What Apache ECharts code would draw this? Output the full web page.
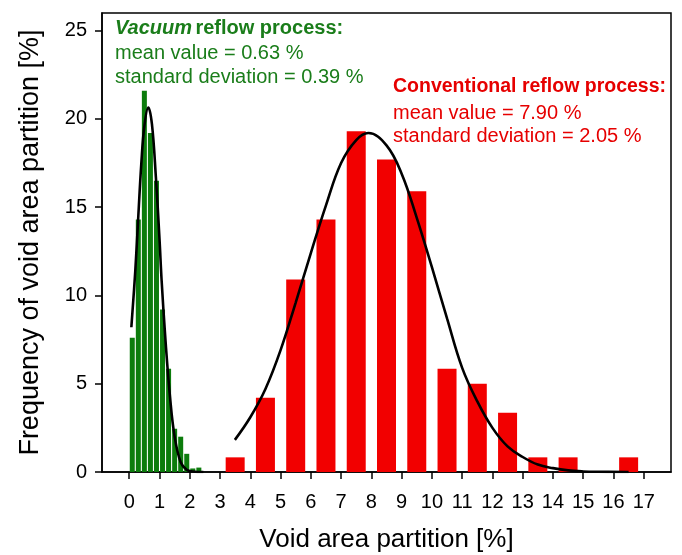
<!DOCTYPE html>
<html>
<head>
<meta charset="utf-8">
<script src="https://cdn.jsdelivr.net/npm/echarts@6/dist/echarts.min.js"></script>
<style>
html,body{margin:0;padding:0;background:#fff;}
#chart{width:682px;height:555px;}
</style>
</head>
<body>
<div id="chart"></div>
<script>
// Vacuum reflow: bin centres (0.2 wide bins) and frequencies [%]
var vacuumBins = [0.1, 0.3, 0.5, 0.7, 0.9, 1.1, 1.3, 1.5, 1.7, 1.9, 2.1, 2.3];
var vacuumFreq = [7.6, 14.3, 21.6, 19.2, 16.5, 9.2, 5.85, 2.45, 2.0, 1.03, 0.2, 0.25];
// Conventional reflow: bin centres (1.0 wide bins) and frequencies [%]
var convBins = [3.5, 4.5, 5.5, 6.5, 7.5, 8.5, 9.5, 10.5, 11.5, 12.5, 13.5, 14.5, 15.5, 16.5];
var convFreq = [0.83, 4.2, 10.9, 14.3, 19.3, 17.7, 15.9, 5.85, 5.0, 3.35, 0.83, 0.83, 0, 0.83];
// Fitted curves
var vacuumCurveX = [0.07, 0.2, 0.3, 0.4, 0.5, 0.63, 0.75, 0.88, 1.0, 1.07, 1.2, 1.35, 1.5, 1.7, 1.9, 2.1, 2.45];
var vacuumCurveY = [8.2, 11.4, 14.5, 17.5, 19.6, 20.65, 19.7, 16.7, 13.2, 10.85, 7.4, 4.2, 2.0, 0.55, 0.12, 0.03, 0];
var convCurveX = [3.49, 4.0, 4.5, 5.0, 5.5, 6.0, 6.5, 7.0, 7.5, 7.9, 8.5, 9.0, 9.5, 10.0, 10.5, 11.0, 11.5, 12.0, 12.5, 13.0, 13.5, 14.0, 14.5, 15.0, 15.5, 16.5];
var convCurveY = [1.82, 3.1, 4.7, 6.9, 9.6, 12.4, 15.1, 17.5, 18.8, 19.2, 18.5, 16.9, 14.4, 11.6, 8.7, 5.9, 4.0, 2.5, 1.45, 0.85, 0.42, 0.22, 0.09, 0.03, 0.01, 0];
// Tick labels
var xTicks = [0, 1, 2, 3, 4, 5, 6, 7, 8, 9, 10, 11, 12, 13, 14, 15, 16, 17];
var yTicks = [0, 5, 10, 15, 20, 25];

function pairs(xs, ys) { return xs.map(function (x, i) { return [x, ys[i]]; }); }

var FONT = "'Liberation Sans', Arial, sans-serif";
var GREEN = '#0c7c0c';
var GREEN_TXT = '#1a7d1a';
var RED = '#f20000';
var RED_TXT = '#e60000';

var chart = echarts.init(document.getElementById('chart'), null, {renderer: 'canvas'});

var xBase = {
  type: 'value', min: -0.9, max: 17.9,
  axisLine: {show: true, onZero: false, lineStyle: {color: '#000', width: 1.5}},
  axisTick: {show: true, customValues: xTicks, length: 7, lineStyle: {color: '#000', width: 1.5}},
  axisLabel: {customValues: xTicks, fontSize: 20, color: '#000', margin: 20, fontFamily: FONT},
  splitLine: {show: false}
};

chart.setOption({
  animation: false,
  backgroundColor: '#fff',
  grid: {left: 102, right: 11, top: 13, bottom: 83, show: true, borderColor: '#000', borderWidth: 1.5, outerBoundsMode: 'none'},
  xAxis: [
    Object.assign({}, xBase, {
      name: 'Void area partition [%]', nameLocation: 'middle', nameGap: 55,
      nameTextStyle: {fontSize: 26, color: '#000', fontFamily: FONT}
    }),
    Object.assign({}, xBase, {show: false, position: 'bottom'})
  ],
  yAxis: {
    type: 'value', min: 0, max: 26,
    axisLine: {show: true, onZero: false, lineStyle: {color: '#000', width: 1.5}},
    axisTick: {show: true, customValues: yTicks, length: 7, lineStyle: {color: '#000', width: 1.5}},
    axisLabel: {customValues: yTicks, fontSize: 20, color: '#000', margin: 15, fontFamily: FONT},
    splitLine: {show: false},
    name: 'Frequency of void area partition [%]', nameLocation: 'middle', nameGap: 58,
    nameTextStyle: {fontSize: 27, color: '#000', fontFamily: FONT}
  },
  series: [
    {type: 'bar', xAxisIndex: 0, barWidth: 5, itemStyle: {color: GREEN}, data: pairs(vacuumBins, vacuumFreq)},
    {type: 'bar', xAxisIndex: 1, barWidth: 19, itemStyle: {color: RED}, data: pairs(convBins, convFreq)},
    {type: 'line', xAxisIndex: 0, smooth: 0.4, showSymbol: false, symbol: 'none',
     lineStyle: {color: '#000', width: 2.6}, data: pairs(vacuumCurveX, vacuumCurveY), z: 5},
    {type: 'line', xAxisIndex: 0, smooth: 0.4, showSymbol: false, symbol: 'none',
     lineStyle: {color: '#000', width: 2.6}, data: pairs(convCurveX, convCurveY), z: 5}
  ],
  graphic: [
    {type: 'text', left: 115, top: 18, z: 10, style: {
      text: '{bi|Vacuum} {b|reflow process:}',
      rich: {
        bi: {font: 'italic bold 20px ' + FONT, fill: GREEN_TXT},
        b: {font: 'bold 20px ' + FONT, fill: GREEN_TXT}
      }}},
    {type: 'text', left: 115, top: 43, z: 10, style: {text: 'mean value = 0.63 %', font: '20px ' + FONT, fill: GREEN_TXT}},
    {type: 'text', left: 115, top: 67, z: 10, style: {text: 'standard deviation = 0.39 %', font: '20px ' + FONT, fill: GREEN_TXT}},
    {type: 'text', left: 393, top: 77, z: 10, style: {text: 'Conventional reflow process:', font: 'bold 19.5px ' + FONT, fill: RED_TXT}},
    {type: 'text', left: 393, top: 103, z: 10, style: {text: 'mean value = 7.90 %', font: '20px ' + FONT, fill: RED_TXT}},
    {type: 'text', left: 393, top: 126, z: 10, style: {text: 'standard deviation = 2.05 %', font: '20px ' + FONT, fill: RED_TXT}}
  ]
});
</script>
</body>
</html>
